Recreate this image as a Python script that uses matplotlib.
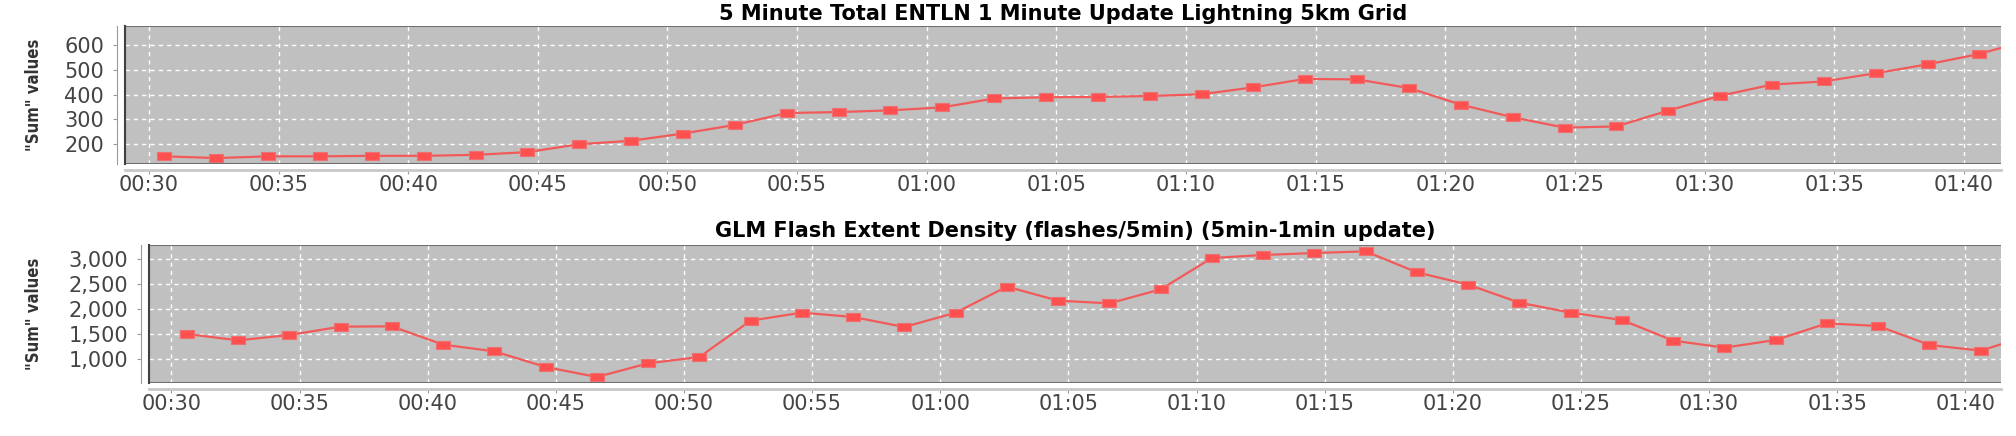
import matplotlib
matplotlib.use("Agg")
import matplotlib.pyplot as plt
from matplotlib.patches import Rectangle
from matplotlib.ticker import FixedLocator, FuncFormatter

# sample times (HH:MM:SS), shared by both panels
times = ["00:30:36", "00:32:36", "00:34:36", "00:36:36", "00:38:36", "00:40:36",
         "00:42:36", "00:44:36", "00:46:36", "00:48:36", "00:50:36", "00:52:36",
         "00:54:36", "00:56:36", "00:58:36", "01:00:36", "01:02:36", "01:04:36",
         "01:06:36", "01:08:36", "01:10:36", "01:12:36", "01:14:36", "01:16:36",
         "01:18:36", "01:20:36", "01:22:36", "01:24:36", "01:26:36", "01:28:36",
         "01:30:36", "01:32:36", "01:34:36", "01:36:36", "01:38:36", "01:40:36",
         "01:42:36"]

entln = [150, 143, 150, 150, 152, 152, 156, 167, 199, 213, 242, 277, 325, 329,
         336, 348, 384, 389, 390, 394, 401, 429, 463, 461, 426, 359, 308, 266,
         271, 335, 395, 440, 453, 486, 522, 564, 623]

glm = [1500, 1373, 1480, 1647, 1653, 1287, 1153, 840, 640, 913, 1040, 1767,
       1927, 1840, 1640, 1927, 2447, 2167, 2113, 2393, 3020, 3080, 3120, 3153,
       2733, 2487, 2127, 1927, 1780, 1367, 1227, 1380, 1713, 1660, 1280, 1167,
       1490]

xtick_labels = ["00:30", "00:35", "00:40", "00:45", "00:50", "00:55", "01:00",
                "01:05", "01:10", "01:15", "01:20", "01:25", "01:30", "01:35",
                "01:40"]

title_top = "5 Minute Total ENTLN 1 Minute Update Lightning 5km Grid"
title_bot = "GLM Flash Extent Density (flashes/5min) (5min-1min update)"
ylab = '"Sum" values'


def to_min(s):
    h, m, sec = s.split(":")
    return int(h) * 60 + int(m) + int(sec) / 60.0


x = [to_min(t) for t in times]
xticks = [to_min(t + ":00") for t in xtick_labels]

W, H = 2016, 436
fig = plt.figure(figsize=(W / 100, H / 100), dpi=100)

rect_marker = [(-1, -0.55), (1, -0.55), (1, 0.55), (-1, 0.55), (-1, -0.55)]


def panel(box, y, title, yticks, ylim, xlim, title_pad):
    l, t, r, b = box
    ax = fig.add_axes([l / W, 1 - b / H, (r - l) / W, (b - t) / H])
    ax.set_facecolor("#c0c0c0")
    ax.plot(x, y, color="#f25a5a", lw=1.6, marker=rect_marker, ms=10.5,
            mfc="#ff5050", mec="#ee7070", mew=0.8, zorder=3)
    ax.set_xlim(*xlim)
    ax.set_ylim(*ylim)
    ax.xaxis.set_major_locator(FixedLocator(xticks))
    ax.set_xticklabels(xtick_labels)
    ax.yaxis.set_major_locator(FixedLocator(yticks))
    ax.yaxis.set_major_formatter(FuncFormatter(lambda v, p: f"{v:,.0f}"))
    ax.grid(True, color="white", ls=(0, (3, 3)), lw=1.0)
    ax.set_axisbelow(True)

    for s in ["top", "right"]:
        ax.spines[s].set_visible(False)
    ax.spines["left"].set_position(("outward", 6))
    ax.spines["left"].set_color("#9a9a9a")
    ax.spines["bottom"].set_position(("outward", 4))
    ax.spines["bottom"].set_color("#c8c8c8")
    ax.spines["bottom"].set_linewidth(2)

    ax.tick_params(axis="both", colors="#444444", labelsize=15, length=3)
    ax.tick_params(axis="x", pad=1, color="#999999")
    ax.tick_params(axis="y", pad=6, color="#999999")

    # plot-area frame
    ax.add_patch(Rectangle((0, 0), 1.2, 1, transform=ax.transAxes, fill=False,
                           ec="#707070", lw=1.5, clip_on=True, zorder=4))
    ax.plot([0, 0], [0, 1], transform=ax.transAxes, color="#404040", lw=1.5,
            clip_on=False, zorder=4)

    ax.set_title(title, fontsize=15, fontweight="bold", pad=title_pad)
    ax.set_ylabel(ylab, fontsize=12, fontweight="bold", fontstretch="condensed",
                  color="#333333")
    ax.yaxis.set_label_coords((43 - l) / (r - l), 0.5)
    return ax


panel((125, 26, 2001, 164), entln, title_top, [200, 300, 400, 500, 600],
      (119, 677), (29.08, 101.43), 4)
panel((149, 245, 2001, 383), glm, title_bot, [1000, 1500, 2000, 2500, 3000],
      (520, 3280), (29.125, 101.39), 6)

fig.savefig("out.png", dpi=100)
